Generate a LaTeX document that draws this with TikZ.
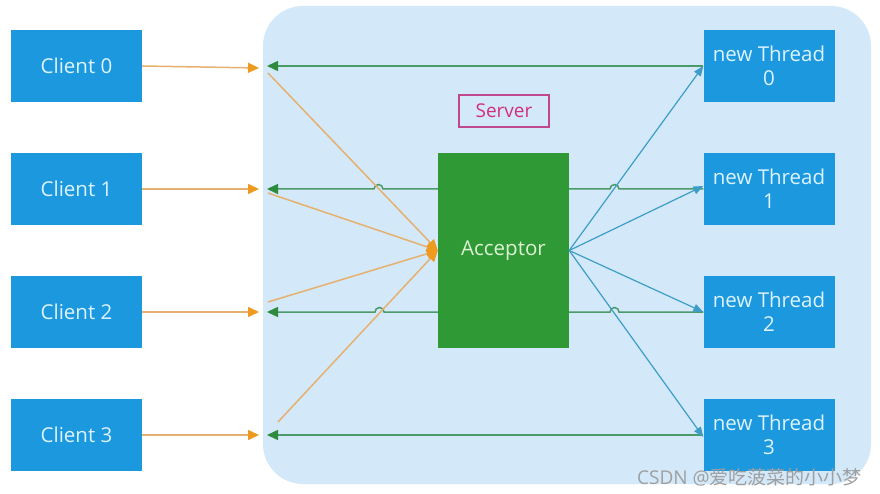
\documentclass[tikz,border=0pt]{standalone}
\usepackage{fontspec}
\setmainfont{Open Sans}
\newfontfamily\cjkfont{Noto Sans CJK SC}
\usetikzlibrary{arrows.meta}
\definecolor{clientblue}{HTML}{1B98DE}
\definecolor{serverbg}{HTML}{D3E9F9}
\definecolor{accgreen}{HTML}{2F9A35}
\definecolor{orangeline}{HTML}{E5B070}
\definecolor{orangetip}{HTML}{EE9A1E}
\definecolor{greenline}{HTML}{4A9A6A}
\definecolor{greentip}{HTML}{2E8B3E}
\definecolor{blueline}{HTML}{3C9DC8}
\definecolor{servermag}{HTML}{C0488E}
\definecolor{servertext}{HTML}{D0307E}
\definecolor{boxtext}{HTML}{DDF3FF}
\definecolor{acctext}{HTML}{DDF2D5}
\tikzset{
  bluebox/.style={fill=clientblue, draw=none, minimum width=131pt, minimum height=72pt,
    text=boxtext, font=\fontsize{20.5}{24}\selectfont, align=center, inner sep=0pt},
  accbox/.style={fill=accgreen, draw=none, minimum width=131pt, minimum height=195pt,
    text=acctext, font=\fontsize{20.5}{24}\selectfont, inner sep=0pt},
  reqarrow/.style={draw=orangeline, line width=1.5pt, -{Triangle[length=11pt,width=10pt,color=orangetip]}},
  resparrow/.style={draw=greenline, line width=1.5pt, -{Triangle[length=11pt,width=10pt,color=greentip]}},
  respline/.style={draw=greenline, line width=1.5pt},
  disparrow/.style={draw=blueline, line width=1.2pt, -{Triangle[length=10pt,width=8pt,color=blueline]}},
}
\begin{document}
\begin{tikzpicture}[x=1pt,y=-1pt]
\useasboundingbox (0,0) rectangle (880,494);
\fill[white] (0,0) rectangle (880,494);
% server area
\fill[serverbg, rounded corners=40pt] (263,6) rectangle (871,484);
\node[draw=servermag, line width=1.3pt, text=servertext, font=\fontsize{19}{22}\selectfont,
  minimum width=90pt, minimum height=32pt, inner sep=0pt] (server) at (504,111) {Server};

% clients
\node[bluebox] (c0) at (76.5,66) {Client 0};
\node[bluebox] (c1) at (76.5,189) {Client 1};
\node[bluebox] (c2) at (76.5,312) {Client 2};
\node[bluebox] (c3) at (76.5,435) {Client 3};
% threads
\node[bluebox] (t0) at (769,66) {new Thread\\0};
\node[bluebox] (t1) at (769,189) {new Thread\\1};
\node[bluebox] (t2) at (769,312) {new Thread\\2};
\node[bluebox] (t3) at (769,435) {new Thread\\3};

% coordinates
\coordinate (in0) at (259,68);
\coordinate (in1) at (259,189);
\coordinate (in2) at (259,312);
\coordinate (in3) at (259,435);
\coordinate (out0) at (267,66);
\coordinate (out1) at (267,189);
\coordinate (out2) at (267,312);
\coordinate (out3) at (267,435);
\coordinate (s0) at (268,73);
\coordinate (s1) at (268,193);
\coordinate (s2) at (268,302);
\coordinate (s3) at (278,422);

% green response lines (drawn first, with hops)
\draw[resparrow] (t0.west) -- (out0);
\draw[resparrow] (t3.west) -- (out3);
\draw[respline] (t1.west) -- (619,189) arc[start angle=0,end angle=180,radius=4.5pt] -- (569,189);
\draw[resparrow] (438,189) -- (383,189) arc[start angle=0,end angle=180,radius=4.5pt] -- (out1);
\draw[respline] (t2.west) -- (619,312) arc[start angle=0,end angle=180,radius=4.5pt] -- (569,312);
\draw[resparrow] (438,312) -- (384,312) arc[start angle=0,end angle=180,radius=4.5pt] -- (out2);

% acceptor
\node[accbox] (acc) at (503.5,250.5) {Acceptor};

% orange requests
\draw[reqarrow] (c0.east) -- (in0);
\draw[reqarrow] (c1.east) -- (in1);
\draw[reqarrow] (c2.east) -- (in2);
\draw[reqarrow] (c3.east) -- (in3);
\foreach \s in {s0,s1,s2,s3}{
  \draw[reqarrow] (\s) -- (acc.west);
}

% blue dispatch
\draw[disparrow] (acc.east) -- (t0.west);
\draw[disparrow] (acc.east) -- ([yshift=3pt]t1.west);
\draw[disparrow] (acc.east) -- (t2.west);
\draw[disparrow] (acc.east) -- ([yshift=-2pt]t3.west);

% watermark
\node[anchor=south east, text=gray!75, font=\fontsize{19}{22}\selectfont, inner sep=0pt] (wm) at (862,486)
  {CSDN @{\cjkfont 爱吃菠菜的小小梦}};
\end{tikzpicture}
\end{document}
